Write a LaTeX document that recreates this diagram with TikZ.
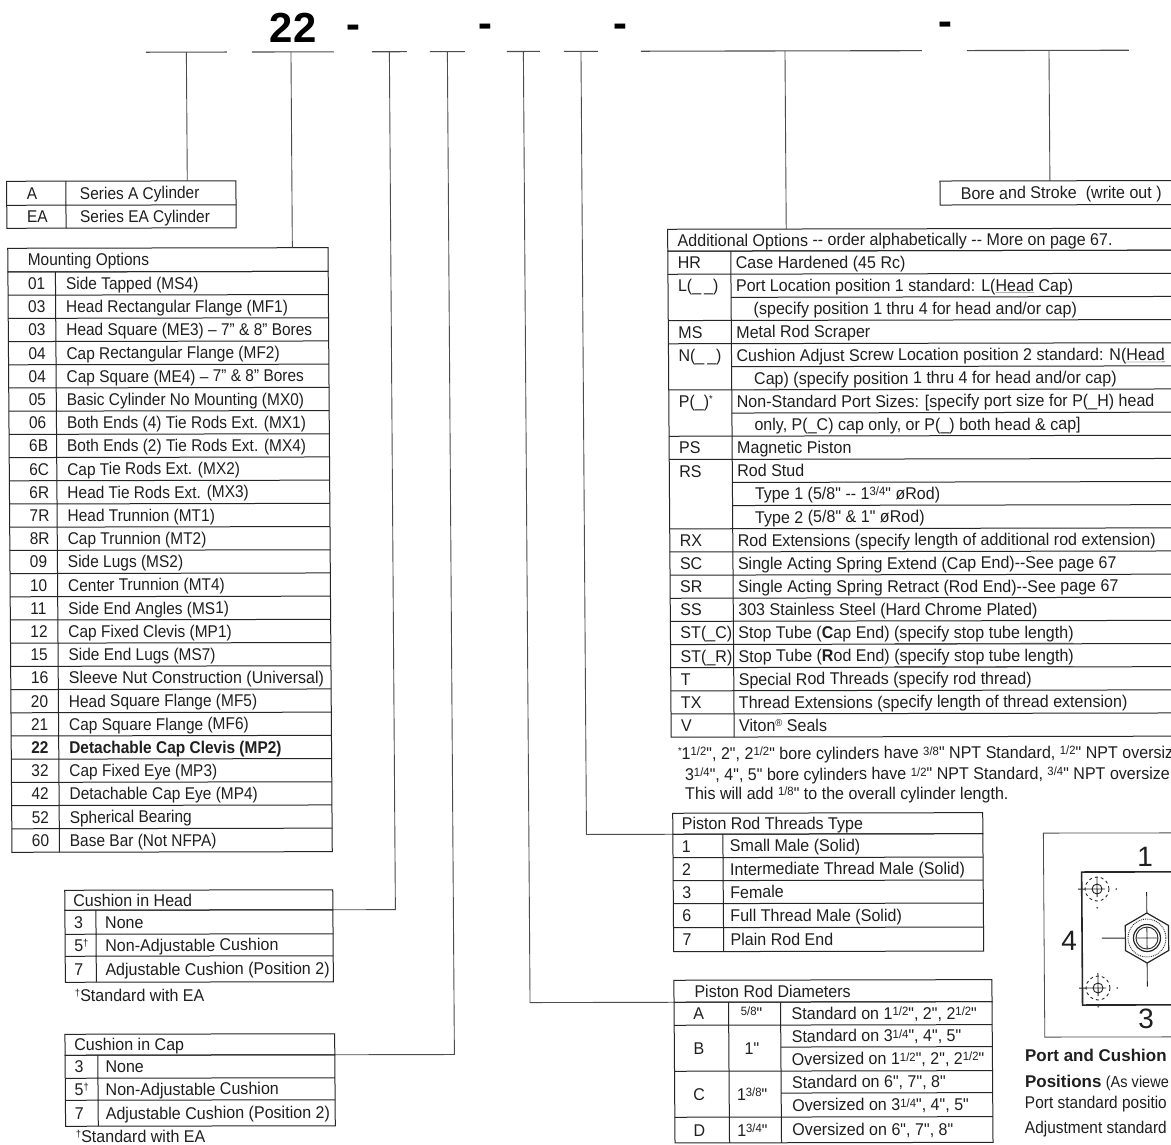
\documentclass[tikz,border=0pt]{standalone}
\usepackage{fontspec}
\setmainfont[FakeStretch=0.91]{Liberation Sans}
\newfontfamily\widefamily[FakeStretch=0.945]{Liberation Sans}
\newfontfamily\plainfont{Liberation Sans}
\definecolor{inkcolor}{gray}{0.12}
\definecolor{rulecolor}{gray}{0.15}
\definecolor{linkcolor}{gray}{0.3}
\newcommand{\bodyfont}{\fontsize{17}{19}\selectfont}
\newcommand{\frc}[2]{\raisebox{.42ex}{\fontsize{12}{12}\selectfont #1/#2}}
\newcommand{\sgn}[1]{\raisebox{.5ex}{\fontsize{10}{10}\selectfont #1}}
\begin{document}
\begin{tikzpicture}[x=1pt,y=-1pt,every node/.style={transform shape,inner sep=0pt,outer sep=0pt},
  cell/.style={anchor=west,font=\bodyfont,text=inkcolor,text height=13.5pt,text depth=1.5pt},
  widecell/.style={cell,font=\widefamily\bodyfont},
  midcell/.style={widecell,anchor=center},
  bignum/.style={anchor=center,font=\plainfont\fontsize{28}{30}\selectfont,text=inkcolor},
  notecell/.style={cell,font=\plainfont\fontsize{17}{19}\selectfont},
  topmark/.style={anchor=center,font=\plainfont\bfseries\fontsize{42}{44}\selectfont,text=black},
  tablebox/.style={draw=rulecolor,line width=1pt,anchor=north west},
  blankline/.style={draw=linkcolor,line width=1.1pt,minimum height=0pt},
  rule/.style={draw=rulecolor,line width=1pt},
  link/.style={draw=linkcolor,line width=.9pt},
  figline/.style={draw=black!85,line width=.9pt}]
\useasboundingbox (0,0) rectangle (1171,1145);
\clip (0,0) rectangle (1171,1145);
\fill[white] (0,0) rectangle (1171,1145);
\begin{scope}[cm={1,.002,-.007,1,(0,0)}]
% order code
\node[topmark] (code22) at (292.8,28.6) {22};
\node[topmark] (dash1) at (352.8,32) {-};
\node[topmark] (dash2) at (484.8,31.5) {-};
\node[topmark] (dash3) at (619.8,31.8) {-};
\node[topmark] (dash4) at (944.8,30.4) {-};
\node[blankline,minimum width=81pt] (blankA) at (186,52.5) {};
\node[blankline,minimum width=82pt] (blankB) at (292.6,52.5) {};
\node[blankline,minimum width=35pt] (blankC) at (389,52.5) {};
\node[blankline,minimum width=35pt] (blankD) at (447,52.5) {};
\node[blankline,minimum width=33pt] (blankE) at (523,52.5) {};
\node[blankline,minimum width=34pt] (blankF) at (580.6,52.5) {};
\node[blankline,minimum width=281pt] (blankG) at (781,52.5) {};
\node[blankline,minimum width=162pt] (blankH) at (1047.6,52.5) {};
% series
\node[tablebox,minimum width=229.3pt,minimum height=47pt] (seriesbox) at (5.3,181.3) {};
\draw[rule] (5.3,205.3) -- (234.6,205.3) (64.5,181.3) -- (64.5,228.3);
\node[cell] (s1c) at (25.6,193.3) {A};
\node[cell] (s1t) at (78.6,193.3) {Series A Cylinder};
\node[cell] (s2c) at (25.6,216.8) {EA};
\node[cell] (s2t) at (78.6,216.8) {Series EA Cylinder};
% mounting
\node[tablebox,minimum width=320.3pt,minimum height=23.7pt] (mounttitle) at (6,248.3) {};
\node[tablebox,minimum width=320.3pt,minimum height=580.3pt] (mountbox) at (6,272) {};
\node[cell] (mountname) at (26,260) {Mounting Options};
\draw[rule] (53.5,272) -- (53.5,852.3);
\draw[rule] (6,295.2) -- (326.3,295.2) (6,318.4) -- (326.3,318.4) (6,341.6) -- (326.3,341.6)
  (6,364.8) -- (326.3,364.8) (6,388) -- (326.3,388) (6,411.2) -- (326.3,411.2)
  (6,434.4) -- (326.3,434.4) (6,457.6) -- (326.3,457.6) (6,480.8) -- (326.3,480.8)
  (6,504) -- (326.3,504) (6,527.2) -- (326.3,527.2) (6,550.4) -- (326.3,550.4)
  (6,573.6) -- (326.3,573.6) (6,596.8) -- (326.3,596.8) (6,620) -- (326.3,620)
  (6,643.2) -- (326.3,643.2) (6,666.4) -- (326.3,666.4) (6,689.6) -- (326.3,689.6)
  (6,712.8) -- (326.3,712.8) (6,736) -- (326.3,736) (6,759.2) -- (326.3,759.2)
  (6,782.4) -- (326.3,782.4) (6,805.6) -- (326.3,805.6) (6,828.8) -- (326.3,828.8);
\node[cell] (m1c) at (26,283.6) {01};
\node[cell] (m1t) at (64,283.6) {Side Tapped (MS4)};
\node[cell] (m2c) at (26,306.8) {03};
\node[cell] (m2t) at (64,306.8) {Head Rectangular Flange (MF1)};
\node[cell] (m3c) at (26,330) {03};
\node[cell] (m3t) at (64,330) {Head Square (ME3) -- 7" \& 8" Bores};
\node[cell] (m4c) at (26,353.2) {04};
\node[cell] (m4t) at (64,353.2) {Cap Rectangular Flange (MF2)};
\node[cell] (m5c) at (26,376.4) {04};
\node[cell] (m5t) at (64,376.4) {Cap Square (ME4) -- 7" \& 8" Bores};
\node[cell] (m6c) at (26,399.6) {05};
\node[cell] (m6t) at (64,399.6) {Basic Cylinder No Mounting (MX0)};
\node[cell] (m7c) at (26,422.8) {06};
\node[cell] (m7t) at (64,422.8) {Both Ends (4) Tie Rods Ext. (MX1)};
\node[cell] (m8c) at (26,446) {6B};
\node[cell] (m8t) at (64,446) {Both Ends (2) Tie Rods Ext. (MX4)};
\node[cell] (m9c) at (26,469.2) {6C};
\node[cell] (m9t) at (64,469.2) {Cap Tie Rods Ext. (MX2)};
\node[cell] (m10c) at (26,492.4) {6R};
\node[cell] (m10t) at (64,492.4) {Head Tie Rods Ext. (MX3)};
\node[cell] (m11c) at (26,515.6) {7R};
\node[cell] (m11t) at (64,515.6) {Head Trunnion (MT1)};
\node[cell] (m12c) at (26,538.8) {8R};
\node[cell] (m12t) at (64,538.8) {Cap Trunnion (MT2)};
\node[cell] (m13c) at (26,562) {09};
\node[cell] (m13t) at (64,562) {Side Lugs (MS2)};
\node[cell] (m14c) at (26,585.2) {10};
\node[cell] (m14t) at (64,585.2) {Center Trunnion (MT4)};
\node[cell] (m15c) at (26,608.4) {11};
\node[cell] (m15t) at (64,608.4) {Side End Angles (MS1)};
\node[cell] (m16c) at (26,631.6) {12};
\node[cell] (m16t) at (64,631.6) {Cap Fixed Clevis (MP1)};
\node[cell] (m17c) at (26,654.8) {15};
\node[cell] (m17t) at (64,654.8) {Side End Lugs (MS7)};
\node[widecell] (m18c) at (26,678) {16};
\node[widecell] (m18t) at (64,678) {Sleeve Nut Construction (Universal)};
\node[cell] (m19c) at (26,701.2) {20};
\node[cell] (m19t) at (64,701.2) {Head Square Flange (MF5)};
\node[cell] (m20c) at (26,724.4) {21};
\node[cell] (m20t) at (64,724.4) {Cap Square Flange (MF6)};
\node[cell] (m21c) at (26,747.6) {\textbf{22}};
\node[cell] (m21t) at (64,747.6) {\textbf{Detachable Cap Clevis (MP2)}};
\node[cell] (m22c) at (26,770.8) {32};
\node[cell] (m22t) at (64,770.8) {Cap Fixed Eye (MP3)};
\node[cell] (m23c) at (26,794) {42};
\node[cell] (m23t) at (64,794) {Detachable Cap Eye (MP4)};
\node[cell] (m24c) at (26,817.2) {52};
\node[cell] (m24t) at (64,817.2) {Spherical Bearing};
\node[cell] (m25c) at (26,840.4) {60};
\node[cell] (m25t) at (64,840.4) {Base Bar (Not NFPA)};
% cushions
\node[tablebox,minimum width=268pt,minimum height=20pt] (headtitle) at (58.5,890.4) {};
\node[tablebox,minimum width=268pt,minimum height=72pt] (headbox) at (58.5,910.4) {};
\draw[rule] (58.5,934.4) -- (326.5,934.4) (58.5,956.4) -- (326.5,956.4) (89.5,910.4) -- (89.5,982.4);
\node[widecell] (headname) at (67,901) {Cushion in Head};
\node[widecell] (h1c) at (67.6,922.4) {3};
\node[widecell] (h1t) at (98.7,922.4) {None};
\node[widecell] (h2c) at (67.6,945.4) {5\sgn{†}};
\node[widecell] (h2t) at (98.7,945.4) {Non-Adjustable Cushion};
\node[widecell] (h3c) at (67.6,969.4) {7};
\node[widecell] (h3t) at (98.7,969.4) {Adjustable Cushion (Position 2)};
\node[widecell] (headnote) at (68,995.4) {\sgn{†}Standard with EA};
\node[tablebox,minimum width=269.7pt,minimum height=21pt] (captitle) at (57.7,1034.4) {};
\node[tablebox,minimum width=269.7pt,minimum height=71pt] (capbox) at (57.7,1055.4) {};
\draw[rule] (57.7,1078.4) -- (327.4,1078.4) (57.7,1100.4) -- (327.4,1100.4) (90.4,1055.4) -- (90.4,1126.4);
\node[widecell] (capname) at (67,1045) {Cushion in Cap};
\node[widecell] (c1c) at (67,1067) {3};
\node[widecell] (c1t) at (98,1067) {None};
\node[widecell] (c2c) at (67,1089.4) {5\sgn{†}};
\node[widecell] (c2t) at (98,1089.4) {Non-Adjustable Cushion};
\node[widecell] (c3c) at (67,1113.4) {7};
\node[widecell] (c3t) at (98,1113.4) {Adjustable Cushion (Position 2)};
\node[widecell] (capnote) at (68,1136.4) {\sgn{†}Standard with EA};
% bore
\node[tablebox,minimum width=250pt,minimum height=24pt] (borebox) at (938.7,182.9) {};
\node[widecell] (borename) at (959.4,195) {Bore and Stroke\ \ (write out )};
% additional options
\node[tablebox,minimum width=520pt,minimum height=21.9pt] (addtitle) at (666,230.6) {};
\node[tablebox,minimum width=520pt,minimum height=486pt] (addbox) at (666,252.5) {};
\node[widecell] (addname) at (676,241.6) {Additional Options -- order alphabetically -- More on page 67.};
\draw[rule] (729,252.5) -- (729,738.5);
\draw[rule] (666,275.6) -- (1186,275.6) (729,298.8) -- (1186,298.8) (666,321.9) -- (1186,321.9)
  (666,345.1) -- (1186,345.1) (729,368.2) -- (1186,368.2) (666,391.3) -- (1186,391.3)
  (729,414.5) -- (1186,414.5) (666,437.6) -- (1186,437.6) (666,460.8) -- (1186,460.8)
  (729,483.9) -- (1186,483.9) (729,507) -- (1186,507) (666,530.2) -- (1186,530.2)
  (666,553.3) -- (1186,553.3) (666,576.5) -- (1186,576.5) (666,599.6) -- (1186,599.6)
  (666,622.7) -- (1186,622.7) (666,645.9) -- (1186,645.9) (666,669) -- (1186,669)
  (666,692.2) -- (1186,692.2) (666,715.3) -- (1186,715.3);
\node[widecell] (a1c) at (676,264.1) {HR};
\node[widecell] (a1t) at (734,264.1) {Case Hardened (45 Rc)};
\node[widecell] (a2c) at (676,287.2) {L(\_\,\_)};
\node[widecell] (a2t) at (734,287.2) {Port Location position 1 standard: L(\underline{Head} \underline{Cap})};
\node[widecell] (a3t) at (751.5,310.4) {(specify position 1 thru 4 for head and/or cap)};
\node[widecell] (a4c) at (676,333.5) {MS};
\node[widecell] (a4t) at (734,333.5) {Metal Rod Scraper};
\node[widecell] (a5c) at (676,356.7) {N(\_\,\_)};
\node[widecell] (a5t) at (734,356.7) {Cushion Adjust Screw Location position 2 standard: N(\underline{Head}};
\node[widecell] (a6t) at (751.5,379.8) {\underline{Cap}) (specify position 1 thru 4 for head and/or cap)};
\node[widecell] (a7c) at (676,402.9) {P(\_)\sgn{*}};
\node[widecell] (a7t) at (734,402.9) {Non-Standard Port Sizes: [specify port size for P(\_H) head};
\node[widecell] (a8t) at (751.5,426.1) {only, P(\_C) cap only, or P(\_) both head \& cap]};
\node[widecell] (a9c) at (676,449.2) {PS};
\node[widecell] (a9t) at (734,449.2) {Magnetic Piston};
\node[widecell] (a10c) at (676,472.4) {RS};
\node[widecell] (a10t) at (734,472.4) {Rod Stud};
\node[widecell] (a11t) at (751.5,495.5) {Type 1 (5/8" -- 1\frc{3}{4}" øRod)};
\node[widecell] (a12t) at (751.5,518.6) {Type 2 (5/8" \& 1" øRod)};
\node[widecell] (a13c) at (676,541.8) {RX};
\node[widecell] (a13t) at (734,541.8) {Rod Extensions (specify length of additional rod extension)};
\node[widecell] (a14c) at (676,564.9) {SC};
\node[widecell] (a14t) at (734,564.9) {Single Acting Spring Extend (Cap End)--See page 67};
\node[widecell] (a15c) at (676,588.1) {SR};
\node[widecell] (a15t) at (734,588.1) {Single Acting Spring Retract (Rod End)--See page 67};
\node[widecell] (a16c) at (676,611.2) {SS};
\node[widecell] (a16t) at (734,611.2) {303 Stainless Steel (Hard Chrome Plated)};
\node[widecell] (a17c) at (676,634.3) {ST(\_C)};
\node[widecell] (a17t) at (734,634.3) {Stop Tube (\textbf{C}ap End) \underline{(specify stop tube length)}};
\node[widecell] (a18c) at (676,657.5) {ST(\_R)};
\node[widecell] (a18t) at (734,657.5) {Stop Tube (\textbf{R}od End) \underline{(specify stop tube length)}};
\node[widecell] (a19c) at (676,680.6) {T};
\node[widecell] (a19t) at (734,680.6) {Special Rod Threads (specify rod thread)};
\node[widecell] (a20c) at (676,703.8) {TX};
\node[widecell] (a20t) at (734,703.8) {Thread Extensions (specify length of thread extension)};
\node[widecell] (a21c) at (676,726.9) {V};
\node[widecell] (a21t) at (734,726.9) {Viton\sgn{®} Seals};
\node[widecell] (addnote1) at (672.7,754.7) {\sgn{*}1\frc{1}{2}", 2", 2\frc{1}{2}" bore cylinders have \frc{3}{8}" NPT Standard, \frc{1}{2}" NPT oversize};
\node[widecell] (addnote2) at (679.6,775.7) {3\frc{1}{4}", 4", 5" bore cylinders have \frc{1}{2}" NPT Standard, \frc{3}{4}" NPT oversize.};
\node[widecell] (addnote3) at (679.6,795) {This will add \frc{1}{8}" to the overall cylinder length.};
% threads
\node[tablebox,minimum width=310pt,minimum height=21pt] (threadtitle) at (667,814.6) {};
\node[tablebox,minimum width=310pt,minimum height=117.4pt] (threadbox) at (667,835.6) {};
\draw[rule] (717,835.6) -- (717,953) (667,859) -- (977,859) (667,882) -- (977,882) (667,905) -- (977,905) (667,929) -- (977,929);
\node[widecell] (threadname) at (676,825) {Piston Rod Threads Type};
\node[widecell] (t1c) at (676,847.4) {1};
\node[widecell] (t1t) at (724,847.4) {Small Male (Solid)};
\node[widecell] (t2c) at (676,870.5) {2};
\node[widecell] (t2t) at (724,870.5) {Intermediate Thread Male (Solid)};
\node[widecell] (t3c) at (676,893.5) {3};
\node[widecell] (t3t) at (724,893.5) {Female};
\node[widecell] (t4c) at (676,917) {6};
\node[widecell] (t4t) at (724,917) {Full Thread Male (Solid)};
\node[widecell] (t5c) at (676,941) {7};
\node[widecell] (t5t) at (724,941) {Plain Rod End};
% rod diameters
\node[tablebox,minimum width=318pt,minimum height=22pt] (rodtitle) at (667,981.6) {};
\node[tablebox,minimum width=318pt,minimum height=140.7pt] (rodbox) at (667,1003.6) {};
\draw[rule] (721.5,1003.6) -- (721.5,1144.3) (773.5,1003.6) -- (773.5,1144.3);
\draw[rule] (667,1026.6) -- (985,1026.6) (773.5,1048.6) -- (985,1048.6) (667,1072.6) -- (985,1072.6)
  (773.5,1094.6) -- (985,1094.6) (667,1118.6) -- (985,1118.6);
\node[widecell] (rodname) at (687.5,993) {Piston Rod Diameters};
\node[midcell] (r1c) at (691.5,1015) {A};
\node[midcell] (r1s) at (744.5,1015) {\frc{5}{8}"};
\node[widecell] (r1t) at (784.5,1015) {Standard on 1\frc{1}{2}", 2", 2\frc{1}{2}"};
\node[midcell] (r2c) at (691.5,1049.6) {B};
\node[midcell] (r2s) at (744.5,1049.6) {1"};
\node[widecell] (r2t) at (784.5,1037.6) {Standard on 3\frc{1}{4}", 4", 5"};
\node[widecell] (r3t) at (784.5,1060.6) {Oversized on 1\frc{1}{2}", 2", 2\frc{1}{2}"};
\node[midcell] (r4c) at (691.5,1095.6) {C};
\node[midcell] (r4s) at (744.5,1095.6) {1\frc{3}{8}"};
\node[widecell] (r4t) at (784.5,1083.6) {Standard on 6", 7", 8"};
\node[widecell] (r5t) at (784.5,1106.6) {Oversized on 3\frc{1}{4}", 4", 5"};
\node[midcell] (r6c) at (691.5,1131.5) {D};
\node[midcell] (r6s) at (744.5,1131.5) {1\frc{3}{4}"};
\node[widecell] (r6t) at (784.5,1131.5) {Oversized on 6", 7", 8"};
% positions
\node[tablebox,draw=linkcolor,line width=.8pt,minimum width=150pt,minimum height=204pt] (figbox) at (1037.5,835.2) {};
\node[tablebox,line width=1.6pt,minimum width=110pt,minimum height=133pt] (platebox) at (1075.5,874.2) {};
\node[bignum] (pos1) at (1139,859.3) {1};
\node[bignum] (pos3) at (1139,1021.3) {3};
\node[bignum] (pos4) at (1062.4,943.2) {4};
\draw[figline,line width=1.2pt] (1140.4,915.3) -- (1162,927.8) -- (1162,952.8) -- (1140.4,965.3) -- (1118.8,952.8) -- (1118.8,927.8) -- cycle;
\draw[figline,densely dotted] (1140.4,940.3) circle (19);
\draw[figline,line width=1.2pt] (1140.4,940.3) circle (13.5);
\draw[figline] (1140.4,940.3) circle (11);
\draw[figline] (1129.4,940.3) -- (1151.4,940.3) (1140.4,929.3) -- (1140.4,951.3);
\draw[figline] (1140.4,894.3) -- (1140.4,915.3) (1095.4,940.3) -- (1118.8,940.3) (1140.4,965.3) -- (1140.4,989);
\draw[figline] (1090.8,891.2) circle (5) (1071.8,891.2) -- (1098.8,891.2) (1090.8,879.2) -- (1090.8,899.2);
\draw[figline,dashed] (1090.8,891.2) circle (12);
\draw[figline] (1091.1,990.2) circle (5) (1072.1,990.2) -- (1099.1,990.2) (1091.1,975.2) -- (1091.1,998.2);
\draw[figline,dashed] (1091.1,990.2) circle (12);
\fill[black!80] (1110,891.2) circle (.9) (1090.8,910) circle (.9) (1110.3,990.2) circle (.9) (1091.1,1009) circle (.9);
\node[notecell] (posnote1) at (1017.6,1058) {\textbf{Port and Cushion}};
\node[cell] (posnote2) at (1017.4,1084) {{\plainfont\textbf{Positions}} {\fontsize{16}{19}\selectfont (As viewe}};
\node[cell] (posnote3) at (1017.2,1105) {Port standard positio};
\node[cell] (posnote4) at (1017,1130) {Adjustment standard};
% connectors
\coordinate (seriestop) at (186,181.3);
\coordinate (mounttop) at (290.6,248.3);
\coordinate (headturn) at (389,910.4);
\coordinate (capturn) at (447,1055.4);
\coordinate (rodturn) at (523,1003.6);
\coordinate (threadturn) at (580.6,835.6);
\coordinate (addtop) at (784.6,230.6);
\coordinate (boretop) at (1048.6,182.9);
\draw[link] (blankA.south) -- (seriestop);
\draw[link] ([xshift=-2pt]blankB.south) -- (mounttop);
\draw[link] (blankC.south) -- (headturn) -- (headtitle.south east);
\draw[link] (blankD.south) -- (capturn) -- (captitle.south east);
\draw[link] (blankE.south) -- (rodturn) -- (rodtitle.south west);
\draw[link] (blankF.south) -- (threadturn) -- (threadtitle.south west);
\draw[link] ([xshift=3.6pt]blankG.south) -- (addtop);
\draw[link] ([xshift=1pt]blankH.south) -- (boretop);
\end{scope}
\end{tikzpicture}
\end{document}
